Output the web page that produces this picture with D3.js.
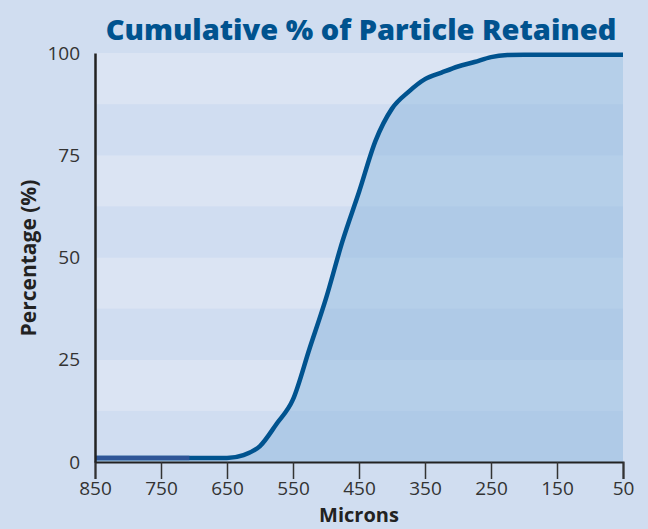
<!DOCTYPE html>
<html><head><meta charset="utf-8">
<script src="https://cdn.jsdelivr.net/npm/d3@7"></script>
<style>
html,body{margin:0;padding:0;background:#d0ddf0;}
svg{display:block;font-family:"Open Sans",sans-serif;}
</style></head>
<body>
<svg id="chart" width="648" height="529"></svg>
<script>
const microns = [850,800,750,700,650,625,600,575,550,525,500,475,450,425,400,375,350,325,300,275,250,225,200,150,100,50];
const retained = [1,1,1,1,1,1.7,3.9,9.3,15.3,27.7,40,54,66,78.5,86.4,90.5,93.6,95.2,96.7,97.8,99,99.5,99.6,99.6,99.6,99.6];
const baseSegMicrons = [850,707];
const baseSegValues = [1,1];
const xTicks = [850,750,650,550,450,350,250,150,50];
const yTicks = [0,25,50,75,100];
const bandEdges = [0,12.5,25,37.5,50,62.5,75,87.5,100];

const svg = d3.select("#chart");
const x = d3.scaleLinear().domain([850,50]).range([95,623]);
const y = d3.scaleLinear().domain([0,100]).range([462,53]);

const bands = d3.range(bandEdges.length-1).map(i=>({lo:bandEdges[i],hi:bandEdges[i+1],i}));
svg.append("g").selectAll("rect").data(bands).join("rect")
  .attr("x",x(850)).attr("width",x(50)-x(850))
  .attr("y",d=>y(d.hi)).attr("height",d=>y(d.lo)-y(d.hi))
  .attr("fill",d=>d.i%2===1?"#dbe4f3":"#d0ddf1");

const pts = microns.map((m,i)=>({m,v:retained[i]}));
const area = d3.area().x(d=>x(d.m)).y0(y(0)).y1(d=>y(d.v)).curve(d3.curveMonotoneX);
svg.append("path").datum(pts).attr("d",area).attr("fill","rgb(126,175,218)").attr("fill-opacity",0.4);

const line = d3.line().x(d=>x(d.m)).y(d=>y(d.v)).curve(d3.curveMonotoneX);
svg.append("path").datum(pts).attr("d",line).attr("fill","none")
  .attr("stroke","#00538f").attr("stroke-width",4.5).attr("stroke-linejoin","round");

const seg = baseSegMicrons.map((m,i)=>({m,v:baseSegValues[i]}));
svg.append("path").datum(seg).attr("d",d3.line().x(d=>x(d.m)).y(d=>y(d.v)))
  .attr("stroke","#2f5597").attr("stroke-width",4.5).attr("fill","none");

const xa = svg.append("g").attr("transform",`translate(0,${y(0)})`)
  .call(d3.axisBottom(x).tickValues(xTicks).tickSize(17).tickPadding(3).tickFormat(d3.format("d")));
xa.select(".domain").attr("stroke","#222").attr("stroke-width",2);
xa.selectAll(".tick line").attr("stroke","#333").attr("stroke-width",1.5);
xa.selectAll(".tick text").attr("font-size",19).attr("fill","#333").attr("font-family","'Open Sans',sans-serif");

const ya = svg.append("g").attr("transform",`translate(${x(850)},0)`)
  .call(d3.axisLeft(y).tickValues(yTicks).tickSize(0).tickPadding(15));
ya.select(".domain").attr("stroke","#222").attr("stroke-width",2.5);
ya.selectAll(".tick text").attr("font-size",19).attr("fill","#333").attr("font-family","'Open Sans',sans-serif");

svg.append("text").attr("x",361).attr("y",40).attr("text-anchor","middle")
  .attr("font-size",29).attr("font-weight",800).attr("fill","#00538f")
  .text("Cumulative % of Particle Retained");
svg.append("text").attr("x",359).attr("y",522).attr("text-anchor","middle")
  .attr("font-size",20).attr("font-weight",700).attr("fill","#222").text("Microns");
svg.append("text").attr("transform","translate(36,258) rotate(-90)").attr("text-anchor","middle")
  .attr("font-size",21).attr("font-weight",700).attr("fill","#222").text("Percentage (%)");
</script>
</body></html>
